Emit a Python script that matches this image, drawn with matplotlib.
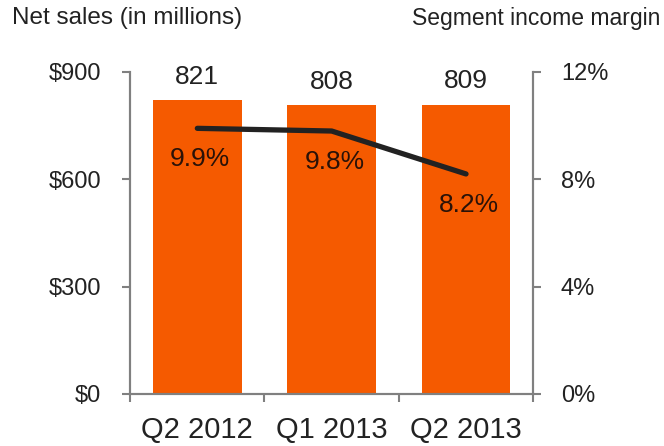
import matplotlib
matplotlib.use("Agg")
import matplotlib.pyplot as plt
import numpy as np

plt.rcParams['font.family'] = ['Liberation Sans', 'DejaVu Sans']

# quarterly data
quarters = ["Q2 2012", "Q1 2013", "Q2 2013"]
net_sales = [821, 808, 809]          # $ millions
margin_pct = [9.9, 9.8, 8.2]         # segment income margin, %
sales_ticks = [0, 300, 600, 900]
sales_tick_labels = ["$0", "$300", "$600", "$900"]
margin_ticks = [0, 4, 8, 12]
margin_tick_labels = ["0%", "4%", "8%", "12%"]

orange = "#F55A00"
dark = "#222222"
axis_gray = "#808080"

fig = plt.figure(figsize=(6.64, 4.46), dpi=100)
ax = fig.add_axes([0.196, 0.1166, 0.607, 0.722])
ax2 = ax.twinx()

x = np.arange(len(quarters))

# bars for net sales
ax.bar(x, net_sales, width=0.66, color=orange, zorder=2)
for xi, v in zip(x, net_sales):
    ax.annotate(str(v), (xi, v), xytext=(0, 8), textcoords="offset points",
                ha="center", va="bottom", fontsize=19, color=dark)

ax.set_xlim(-0.5, 2.5)
ax.set_ylim(0, 900)
ax.set_yticks(sales_ticks)
ax.set_yticklabels(sales_tick_labels, fontsize=17, color=dark)
ax.set_xticks(x)
ax.set_xticklabels(quarters, fontsize=21, color=dark)
ax.set_xticks([-0.5, 0.5, 1.5, 2.5], minor=True)
ax.tick_params(axis="x", which="major", length=0, pad=16)
ax.tick_params(axis="x", which="minor", length=6, width=1.5, color=axis_gray)
ax.tick_params(axis="y", length=6, width=1.5, color=axis_gray, pad=15)

# margin line on the right axis
ax2.plot(x, margin_pct, color=dark, linewidth=3.8, solid_capstyle="round",
         solid_joinstyle="round", zorder=3)
for xi, v in zip(x, margin_pct):
    ax2.annotate(f"{v}%", (xi, v), xytext=(2, -22), textcoords="offset points",
                 ha="center", va="center", fontsize=19, color="#2a1208")
ax2.set_ylim(0, 12)
ax2.set_yticks(margin_ticks)
ax2.set_yticklabels(margin_tick_labels, fontsize=17, color=dark)
ax2.tick_params(axis="y", length=6, width=1.5, color=axis_gray, pad=14)

for a in (ax, ax2):
    a.spines["top"].set_visible(False)
    for side in ("left", "right", "bottom"):
        a.spines[side].set_color(axis_gray)
        a.spines[side].set_linewidth(1.5)

fig.text(0.018, 0.985, "Net sales (in millions)", ha="left", va="top",
         fontsize=17.5, color=dark)
fig.text(0.995, 0.985, "Segment income margin", ha="right", va="top",
         fontsize=16.5, color=dark)

fig.savefig("out.png", dpi=100)
